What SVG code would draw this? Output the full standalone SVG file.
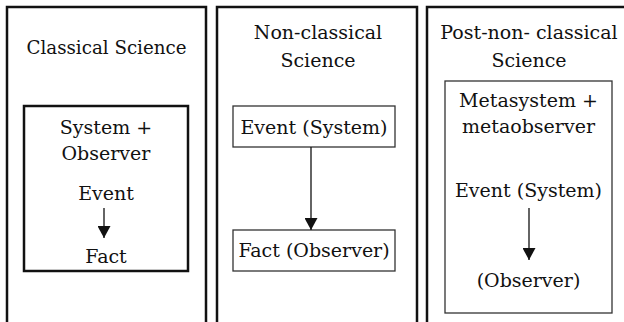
<svg xmlns="http://www.w3.org/2000/svg" width="624" height="322" viewBox="0 0 624 322">
<style>
.panel{fill:none;stroke:#111;stroke-width:2.5}
.thick{fill:#fff;stroke:#111;stroke-width:2.5}
.thin{fill:#fff;stroke:#333;stroke-width:1.3}
text{font-family:"DejaVu Serif","Liberation Serif",serif;font-size:19px;fill:#111;text-anchor:middle}
.conn{stroke:#111;stroke-width:1.3;fill:none;marker-end:url(#ah)}
</style>
<defs>
<marker id="ah" viewBox="0 0 12 13" refX="12" refY="6.5" markerWidth="12" markerHeight="13" markerUnits="userSpaceOnUse" orient="auto">
<path d="M0,0 L12,6.5 L0,13 z" fill="#111"/>
</marker>
</defs>
<rect width="624" height="322" fill="#fff"/>
<g id="classical">
<path class="panel" d="M7,330 V7 H206 V330"/>
<text x="106.5" y="54" textLength="160" lengthAdjust="spacingAndGlyphs">Classical Science</text>
<g id="c-inner">
<rect class="thick" x="24" y="106" width="164" height="165"/>
<text x="106" y="134">System +</text>
<text x="106" y="160">Observer</text>
<text x="106" y="200">Event</text>
<text x="106" y="263">Fact</text>
</g>
</g>
<g id="nonclassical">
<path class="panel" d="M217,330 V7 H417 V330"/>
<text x="318" y="39">Non-classical</text>
<text x="318" y="67">Science</text>
<g id="n-event">
<rect class="thin" x="233" y="106" width="162" height="41"/>
<text x="314" y="134">Event (System)</text>
</g>
<g id="n-fact">
<rect class="thin" x="233" y="230" width="162" height="41"/>
<text x="314" y="257">Fact (Observer)</text>
</g>
</g>
<g id="postnonclassical">
<path class="panel" d="M427,330 V7 H630"/>
<text x="529" y="39">Post-non- classical</text>
<text x="529" y="67">Science</text>
<g id="p-inner">
<rect class="thin" x="445" y="81" width="167" height="232"/>
<text x="528.5" y="107">Metasystem +</text>
<text x="528.5" y="133">metaobserver</text>
<text x="528.5" y="197">Event (System)</text>
<text x="528.5" y="287">(Observer)</text>
</g>
</g>
<g id="connectors">
<line class="conn" x1="104" y1="208" x2="104" y2="238"/>
<line class="conn" x1="311" y1="147" x2="311" y2="230"/>
<line class="conn" x1="529" y1="208" x2="529" y2="260"/>
</g>
</svg>
